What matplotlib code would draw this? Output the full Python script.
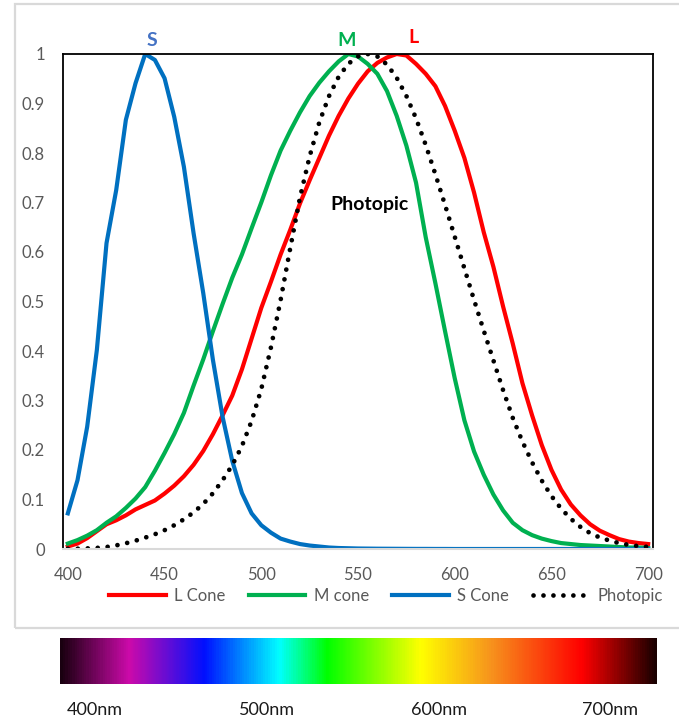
import numpy as np
import matplotlib
matplotlib.use("Agg")
import matplotlib.pyplot as plt
from matplotlib.colors import LinearSegmentedColormap
from matplotlib.patches import Rectangle

plt.rcParams["font.family"] = ["Lato", "DejaVu Sans"]

# wavelengths, 5 nm steps
wavelength = np.arange(400, 705, 5)

l_cone = [0.005, 0.011, 0.022, 0.036, 0.050, 0.058, 0.068, 0.080, 0.089, 0.098,
          0.112, 0.128, 0.147, 0.170, 0.198, 0.232, 0.270, 0.310, 0.363, 0.425,
          0.487, 0.540, 0.595, 0.645, 0.698, 0.745, 0.790, 0.835, 0.875, 0.910,
          0.940, 0.965, 0.982, 0.993, 1.000, 0.997, 0.980, 0.960, 0.935, 0.895,
          0.845, 0.790, 0.720, 0.640, 0.570, 0.490, 0.415, 0.335, 0.270, 0.210,
          0.160, 0.120, 0.090, 0.068, 0.050, 0.037, 0.028, 0.020, 0.015, 0.012,
          0.010]

m_cone = [0.011, 0.018, 0.027, 0.038, 0.053, 0.066, 0.083, 0.102, 0.125, 0.158,
          0.194, 0.232, 0.275, 0.330, 0.383, 0.440, 0.495, 0.548, 0.595, 0.648,
          0.700, 0.755, 0.805, 0.845, 0.882, 0.915, 0.942, 0.965, 0.985, 1.000,
          0.995, 0.980, 0.960, 0.925, 0.875, 0.815, 0.740, 0.630, 0.537, 0.440,
          0.345, 0.260, 0.197, 0.150, 0.110, 0.078, 0.053, 0.038, 0.028, 0.021,
          0.016, 0.012, 0.010, 0.008, 0.007, 0.006, 0.005, 0.004, 0.003, 0.003,
          0.002]

s_cone = [0.072, 0.139, 0.247, 0.402, 0.618, 0.725, 0.867, 0.941, 1.000, 0.988,
          0.951, 0.873, 0.772, 0.638, 0.517, 0.382, 0.267, 0.178, 0.113, 0.072,
          0.048, 0.033, 0.021, 0.015, 0.010, 0.007, 0.005, 0.003, 0.002, 0.0015,
          0.001, 0.0008, 0.0006, 0.0005, 0.0004, 0.0003, 0.0002, 0.0002, 0.0001, 0.0001,
          0, 0, 0, 0, 0, 0, 0, 0, 0, 0,
          0, 0, 0, 0, 0, 0, 0, 0, 0, 0,
          0]

photopic = [0.0004, 0.0006, 0.0012, 0.0022, 0.004, 0.0073, 0.0116, 0.0168, 0.023, 0.0298,
            0.038, 0.048, 0.060, 0.0739, 0.091, 0.1126, 0.139, 0.1693, 0.208, 0.2586,
            0.323, 0.4073, 0.503, 0.6082, 0.710, 0.7932, 0.862, 0.9149, 0.954, 0.9803,
            0.995, 1.000, 0.995, 0.9786, 0.952, 0.9154, 0.870, 0.8163, 0.757, 0.6949,
            0.631, 0.5668, 0.503, 0.4412, 0.381, 0.321, 0.265, 0.217, 0.175, 0.1382,
            0.107, 0.0816, 0.061, 0.0446, 0.032, 0.0232, 0.017, 0.0119, 0.0082, 0.0057,
            0.0041]

x_ticks = [400, 450, 500, 550, 600, 650, 700]
y_ticks = [0, 0.1, 0.2, 0.3, 0.4, 0.5, 0.6, 0.7, 0.8, 0.9, 1]
y_labels = ["0", "0.1", "0.2", "0.3", "0.4", "0.5", "0.6", "0.7", "0.8", "0.9", "1"]

# spectrum bar stops (position along bar, colour)
spectrum_stops = [(0.0, "#1a0010"), (0.114, "#cc0aaa"), (0.241, "#0010ff"),
                  (0.367, "#00ffff"), (0.447, "#00ff00"), (0.605, "#ffff00"),
                  (0.722, "#f7941d"), (0.876, "#ff0000"), (1.0, "#1a0000")]
spectrum_labels = ["400nm", "500nm", "600nm", "700nm"]
spectrum_label_x = [95, 267, 439, 610]

W, H = 679, 721
fig = plt.figure(figsize=(W / 100, H / 100), dpi=100)

# light grey chart frame
fig.patches.append(Rectangle((15 / W, 1 - 628 / H), 1.0, 624 / H, transform=fig.transFigure,
                             fill=False, edgecolor="#d9d9d9", linewidth=1.6))

ax = fig.add_axes([63 / W, 1 - 549 / H, 590 / W, 495 / H])
ax.plot(wavelength, l_cone, color="#ff0000", lw=3, label="L Cone")
ax.plot(wavelength, m_cone, color="#00b050", lw=3, label="M cone")
ax.plot(wavelength, s_cone, color="#0070c0", lw=3, label="S Cone")
ax.plot(wavelength, photopic, color="black", lw=3.4, linestyle=(0, (0.01, 2.1)),
        dash_capstyle="round", label="Photopic")

ax.set_xlim(397.5, 702.5)
ax.set_ylim(0, 1)
ax.set_xticks(x_ticks)
ax.set_yticks(y_ticks)
ax.set_yticklabels(y_labels)
ax.tick_params(length=0, labelsize=12, labelcolor="#595959")
ax.tick_params(axis="y", pad=13)
ax.tick_params(axis="x", pad=13)
for side in ["top", "left", "right"]:
    ax.spines[side].set_color("black")
    ax.spines[side].set_linewidth(1.3)
ax.spines["bottom"].set_color("#d9d9d9")
ax.spines["bottom"].set_linewidth(1.5)

ax.text(443.5, 1.028, "S", color="#4472c4", fontsize=14, fontweight="bold",
        ha="center", va="center", clip_on=False)
ax.text(544.3, 1.028, "M", color="#00b050", fontsize=14, fontweight="bold",
        ha="center", va="center", clip_on=False)
ax.text(578.5, 1.034, "L", color="#ff0000", fontsize=14, fontweight="bold",
        ha="center", va="center", clip_on=False)
ax.text(555.7, 0.695, "Photopic", color="black", fontsize=14, fontweight="bold",
        ha="center", va="center")

fig.legend(loc="center", bbox_to_anchor=(386 / W, 1 - 596 / H), ncol=4, frameon=False,
           fontsize=12, labelcolor="#595959", handlelength=3.4, handletextpad=0.5,
           columnspacing=1.4)

# spectrum colour bar
cmap = LinearSegmentedColormap.from_list("spectrum", spectrum_stops)
bar = fig.add_axes([60 / W, 1 - 684 / H, 597 / W, 46 / H])
bar.imshow(np.linspace(0, 1, 600).reshape(1, -1), cmap=cmap, aspect="auto")
bar.set_axis_off()
for lab, px in zip(spectrum_labels, spectrum_label_x):
    fig.text(px / W, 1 - 710 / H, lab, fontsize=13, color="#1a1a1a", ha="center", va="center")

fig.savefig("out.png", dpi=100)
